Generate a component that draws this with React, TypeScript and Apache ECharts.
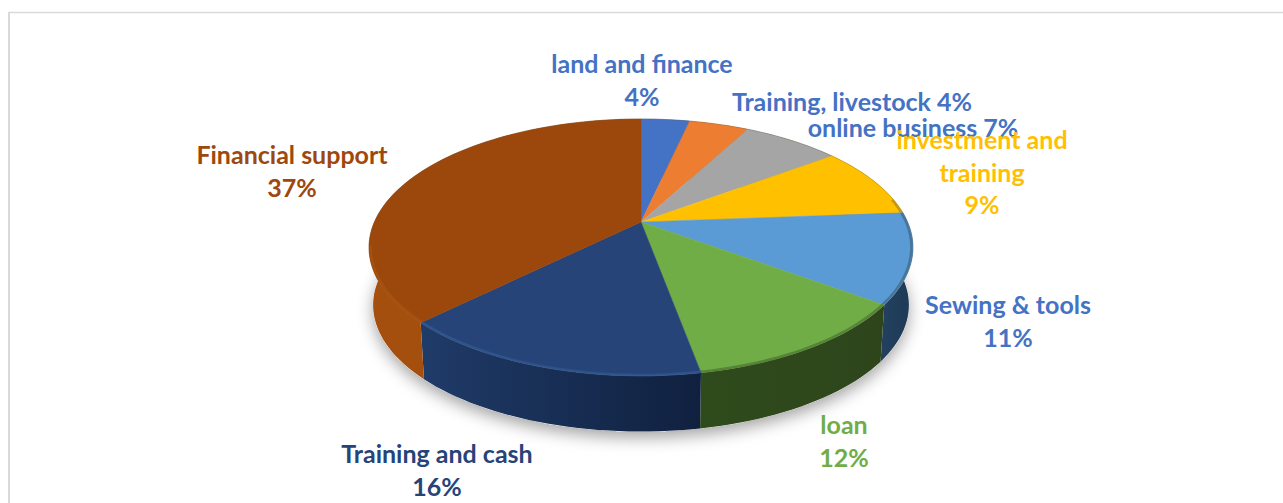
import React, { useEffect, useRef } from "react";
import * as echarts from "echarts";

const categories = [
  "land and finance",
  "Training, livestock",
  "online business",
  "investment and\ntraining",
  "Sewing & tools",
  "loan",
  "Training and cash",
  "Financial support",
];
// Slice shares
const values = [3.5, 4.3, 7.0, 9.0, 11.3, 12.0, 15.5, 37.4];
const percentLabels = ["4%", "4%", "7%", "9%", "11%", "12%", "16%", "37%"];
const inlinePercent = [false, true, true, false, false, false, false, false];

const topColors = ["#4472c4", "#ed7d31", "#a5a5a5", "#ffc000", "#5b9bd5", "#70ad47", "#264478", "#9c470c"];
const labelColors = ["#4472c4", "#4472c4", "#4472c4", "#ffc000", "#4472c4", "#70ad47", "#264478", "#9e480e"];
const rimColors = ["#4472c4", "#ed7d31", "#a5a5a5", "#b08a10", "#3d6683", "#4a7530", "#2f5a96", "#ad530e"];
const wallFrom = ["#30508a", "#a85823", "#747474", "#b38700", "#23415f", "#2e4b1c", "#1f3b68", "#a44f0d"];
const wallTo = ["#30508a", "#a85823", "#747474", "#b38700", "#1f3b58", "#2e451b", "#10203f", "#874008"];
const labelCentres = [
  [642, 63],
  [852, 101],
  [913, 127],
  [982, 139],
  [1008, 304],
  [844, 424],
  [437, 453],
  [292, 154],
];

const CX = 641;
const CY = 222;
const A = 266.6;
const B = 123.4;
const K = 0.198;
const DEPTH = 58;
const BASE_SCALE = 0.985;
const LINE = 32.5;

const total = values.reduce((s, v) => s + v, 0);
const starts: number[] = [];
values.reduce((acc, v, i) => {
  starts[i] = acc;
  return acc + v;
}, 0);

function project(share: number, scale = 1, dy = 0) {
  const t = (share / total) * Math.PI * 2;
  const u = Math.sin(t);
  const v = -Math.cos(t);
  const den = 1 - K * v;
  return [CX + (scale * A * u) / den, CY + (scale * B * v) / den + dy];
}

function arcPoints(from: number, to: number, scale = 1, dy = 0) {
  const n = Math.max(2, Math.ceil((to - from) * 2));
  const pts: number[][] = [];
  for (let i = 0; i <= n; i++) pts.push(project(from + ((to - from) * i) / n, scale, dy));
  return pts;
}

function pathOf(pts: number[][], close: boolean) {
  return pts.map((p, i) => (i ? "L" : "M") + p[0].toFixed(2) + " " + p[1].toFixed(2)).join("") + (close ? "Z" : "");
}

export default function App() {
  const ref = useRef<HTMLDivElement>(null);
  useEffect(() => {
    const chart = echarts.init(ref.current!, undefined, { renderer: "svg" });
    const indices = categories.map((_, i) => i);
    chart.setOption({
      animation: false,
      backgroundColor: "#ffffff",
      graphic: [
        { type: "line", silent: true, shape: { x1: 9, y1: 12.5, x2: 9, y2: 503 }, style: { stroke: "#d9d9d9", lineWidth: 2 } },
        { type: "line", silent: true, shape: { x1: 8, y1: 12.5, x2: 1283, y2: 12.5 }, style: { stroke: "#d9d9d9", lineWidth: 1.5 } },
      ],
      series: [
        {
          type: "custom",
          coordinateSystem: "none",
          z: 1,
          silent: true,
          data: [0],
          renderItem: () => ({
            type: "path",
            shape: { pathData: pathOf(arcPoints(0, total, BASE_SCALE, DEPTH), true) },
            style: {
              fill: "#ffffff",
              shadowBlur: 16,
              shadowColor: "rgba(0,0,0,0.36)",
              shadowOffsetY: 6,
            },
          }),
        },
        {
          type: "custom",
          coordinateSystem: "none",
          z: 2,
          silent: true,
          data: indices,
          renderItem: (_: unknown, api: any) => {
            const i = api.value(0);
            const from = starts[i];
            const to = from + values[i];
            const top = arcPoints(from, to);
            const bottom = arcPoints(from, to, BASE_SCALE, DEPTH).reverse();
            return {
              type: "path",
              shape: { pathData: pathOf(top.concat(bottom), true) },
              style: {
                fill: new echarts.graphic.LinearGradient(
                  Math.min(top[0][0], bottom[0][0]),
                  0,
                  Math.max(top[0][0], bottom[0][0]) + 1,
                  0,
                  [
                    { offset: 0, color: wallFrom[i] },
                    { offset: 1, color: wallTo[i] },
                  ],
                  true
                ),
              },
            };
          },
        },
        {
          type: "custom",
          coordinateSystem: "none",
          z: 3,
          silent: true,
          data: indices,
          renderItem: (_: unknown, api: any) => {
            const i = api.value(0);
            const from = starts[i];
            const to = from + values[i];
            const outer = arcPoints(from, to);
            const frontShare = total * 0.22;
            const frontFrom = Math.max(from, frontShare);
            const frontTo = Math.min(to, total * 0.72);
            const children: any[] = [
              {
                type: "path",
                shape: { pathData: pathOf([[CX, CY], ...outer], true) },
                style: { fill: topColors[i], stroke: topColors[i], lineWidth: 0.5 },
              },
              {
                type: "path",
                shape: { pathData: pathOf(outer, false) },
                style: { fill: "none", stroke: "#6b5a3a", lineWidth: 0.8, opacity: 0.35 },
              },
            ];
            if (frontTo > frontFrom) {
              children.push({
                type: "path",
                shape: { pathData: pathOf(arcPoints(frontFrom, frontTo, 0.994), false) },
                style: { fill: "none", stroke: rimColors[i], lineWidth: 2.5, opacity: 0.7 },
              });
            }
            return { type: "group", children };
          },
        },
        {
          type: "custom",
          coordinateSystem: "none",
          z: 4,
          silent: true,
          data: indices,
          renderItem: (_: unknown, api: any) => {
            const i = api.value(0);
            const lines = categories[i].split("\n");
            const text = inlinePercent[i]
              ? lines[0] + " " + percentLabels[i]
              : lines.concat(percentLabels[i]).join("\n");
            const count = text.split("\n").length;
            return {
              type: "text",
              x: labelCentres[i][0],
              y: labelCentres[i][1] + ((count - 1) * LINE) / 2,
              style: {
                text,
                fill: labelColors[i],
                fontFamily: "Lato",
                fontWeight: "bold",
                fontSize: 25,
                lineHeight: LINE,
                align: "center",
                verticalAlign: "middle",
              },
            };
          },
        },
      ],
    });
    return () => chart.dispose();
  }, []);
  return <div ref={ref} style={{ position: "fixed", left: 0, top: 0, width: 1283, height: 503 }} />;
}
